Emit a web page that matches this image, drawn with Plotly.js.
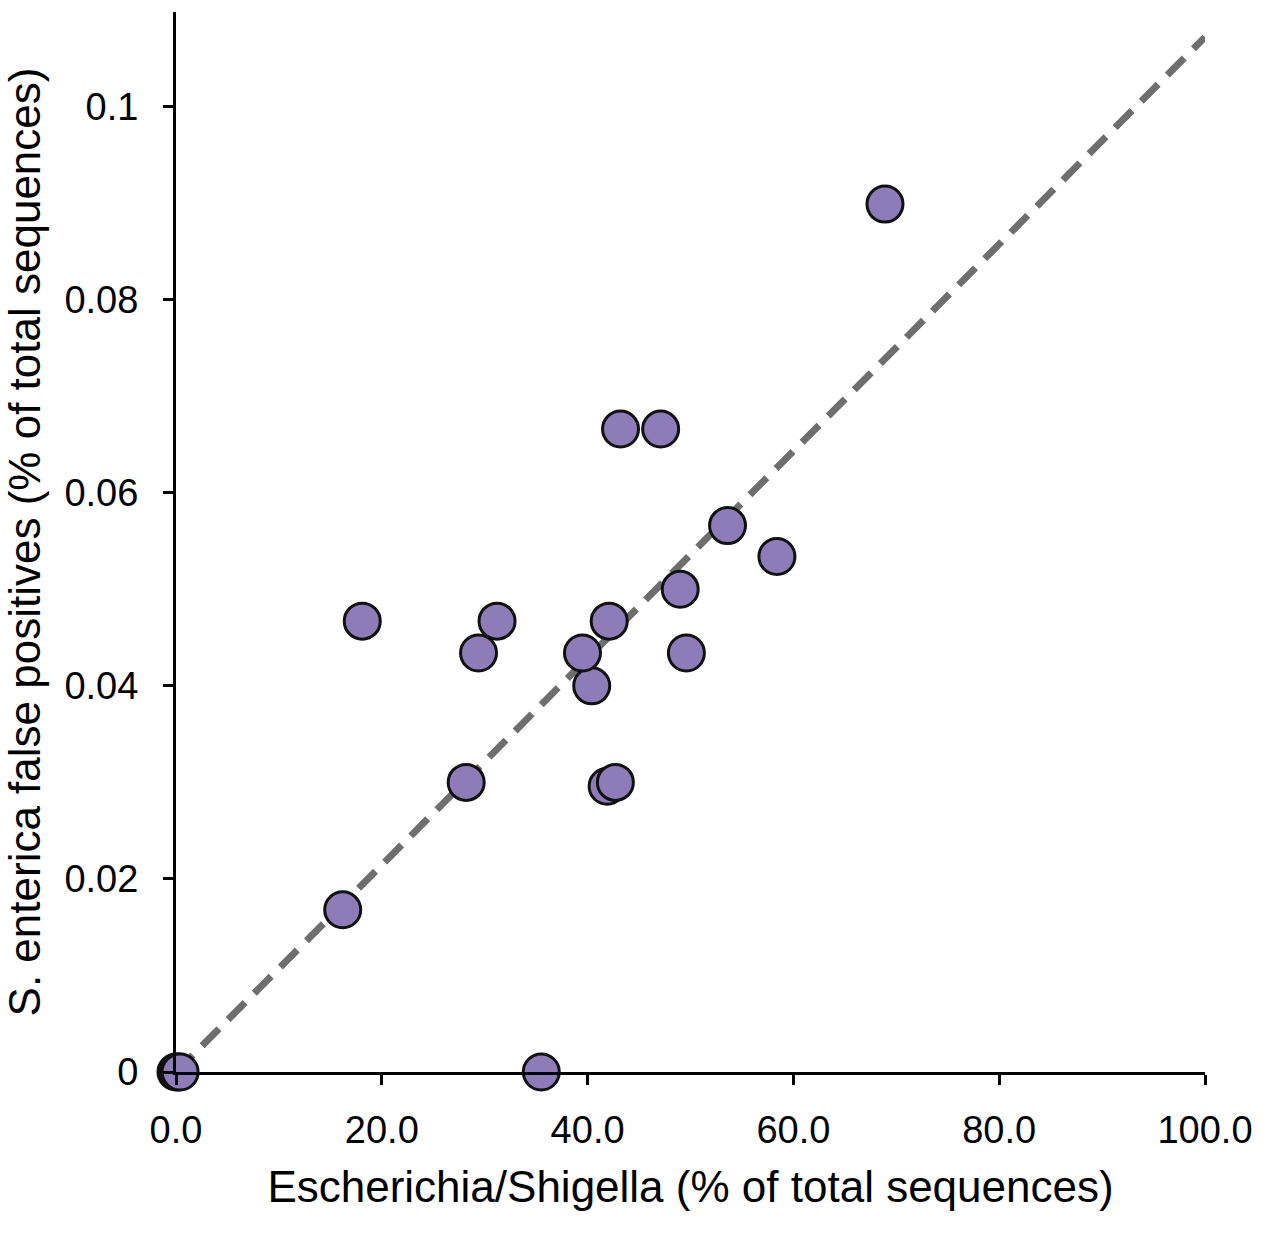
<!DOCTYPE html>
<html>
<head>
<meta charset="utf-8">
<script src="https://cdn.plot.ly/plotly-3.0.1.min.js"></script>
<style>html,body{margin:0;padding:0;background:#fff;}#chart{width:1267px;height:1233px;}</style>
</head>
<body>
<div id="chart"></div>
<script>
// Escherichia/Shigella (% of total sequences)
const escherichiaPct = [0, 0.2, 0.4, 35.5, 16.2, 28.2, 41.9, 42.7, 40.4, 29.4, 39.5, 49.6, 18.1, 31.2, 42.1, 49.0, 58.4, 53.6, 43.2, 47.1, 68.9];
// S. enterica false positives (% of total sequences)
const entericaFP = [0, 0, 0, 0, 0.0168, 0.0300, 0.0296, 0.0300, 0.0400, 0.0434, 0.0434, 0.0434, 0.0467, 0.0467, 0.0467, 0.0500, 0.0534, 0.0566, 0.0666, 0.0666, 0.0899];
// trend line end points (data space)
const trendX = [0, 100];
const trendY = [0, 0.1072];
const xTickVals = [0, 20, 40, 60, 80, 100];
const xTickText = ["0.0", "20.0", "40.0", "60.0", "80.0", "100.0"];
const yTickVals = [0, 0.02, 0.04, 0.06, 0.08, 0.1];
const yTickText = ["0", "0.02", "0.04", "0.06", "0.08", "0.1"];

const FONT = "Liberation Sans, Arial, sans-serif";

const traces = [
  {
    x: trendX, y: trendY, mode: "lines", type: "scatter",
    line: {color: "#6e6e6e", width: 7, dash: "24px,13px"},
    hoverinfo: "skip", cliponaxis: false
  },
  {
    x: escherichiaPct, y: entericaFP, mode: "markers", type: "scatter",
    marker: {size: 36, color: "#8e7cb8", line: {color: "#111", width: 3}},
    cliponaxis: false
  }
];

const layout = {
  width: 1267, height: 1233,
  margin: {l: 176, r: 62, t: 12, b: 161},
  paper_bgcolor: "#fff", plot_bgcolor: "#fff",
  showlegend: false,
  font: {family: FONT, color: "#000"},
  xaxis: {
    range: [0, 100], tickvals: xTickVals, ticktext: xTickText,
    showgrid: false, zeroline: false, showline: true, linecolor: "#000", linewidth: 3,
    ticks: "outside", ticklen: 10, tickwidth: 3, tickcolor: "#000",
    tickfont: {family: FONT, size: 38, color: "#000"},
    ticklabelstandoff: 12,
    title: {text: "Escherichia/Shigella (% of total sequences)", font: {family: FONT, size: 44, color: "#000"}, standoff: 22},
    automargin: false
  },
  yaxis: {
    range: [0, 0.1098], tickvals: yTickVals, ticktext: yTickText,
    showgrid: false, zeroline: false, showline: true, linecolor: "#000", linewidth: 3,
    ticks: "outside", ticklen: 10, tickwidth: 3, tickcolor: "#000",
    tickfont: {family: FONT, size: 38, color: "#000"},
    ticklabelstandoff: 17,
    title: {text: "S. enterica false positives (% of total sequences)", font: {family: FONT, size: 44, color: "#000"}, standoff: 16},
    automargin: false
  }
};

Plotly.newPlot("chart", traces, layout, {staticPlot: true, displayModeBar: false});
</script>
</body>
</html>
